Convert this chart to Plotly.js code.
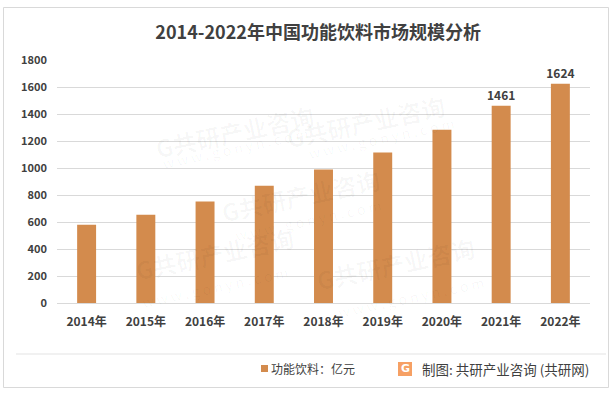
<!DOCTYPE html>
<html>
<head>
<meta charset="utf-8">
<script src="https://cdn.plot.ly/plotly-3.0.1.min.js"></script>
<style>
  html, body { margin: 0; padding: 0; background: #fff; }
  #chart { width: 615px; height: 393px; }
</style>
</head>
<body>
<div id="chart"></div>
<script>
// ---- data ----
const years = ['2014年', '2015年', '2016年', '2017年', '2018年', '2019年', '2020年', '2021年', '2022年'];
const marketSize = [580, 654, 751, 869, 988, 1114, 1284, 1461, 1624];
const labeledYears = ['2021年', '2022年'];
const seriesName = '功能饮料：亿元';
const sourceText = '制图: 共研产业咨询 (共研网)';
const titleText = '2014-2022年中国功能饮料市场规模分析';
const yTicks = [0, 200, 400, 600, 800, 1000, 1200, 1400, 1600, 1800];

// ---- layout helpers ----
const W = 615, H = 393;
const M = { l: 57, r: 25, t: 60, b: 90 };
const pw = W - M.l - M.r, ph = H - M.t - M.b;
const px = x => (x - M.l) / pw;
const py = y => (H - M.b - y) / ph;

const FONT = '"Noto Sans CJK SC", "Noto Sans", sans-serif';
const barColor = '#D38B4D';
const textColor = '#404040';

const trace = {
  type: 'bar',
  x: years,
  y: marketSize,
  marker: { color: barColor },
  text: marketSize.map((v, i) => labeledYears.includes(years[i]) ? String(v) : ''),
  textposition: 'outside',
  constraintext: 'none',
  textfont: { family: FONT, size: 12, color: textColor, weight: 'bold' },
  cliponaxis: false,
  hoverinfo: 'x+y',
  showlegend: false
};

// faint watermarks
const wm = [];
const wmSpots = [[150, 95], [450, 85], [300, 195], [130, 290], [480, 300]];
wmSpots.forEach(([x, y]) => {
  wm.push({ xref: 'paper', yref: 'paper', x: px(x), y: py(y), text: 'G共研产业咨询', showarrow: false,
    textangle: -12, font: { family: FONT, size: 24, color: 'rgba(0,0,0,0.03)', weight: 'bold' } });
  wm.push({ xref: 'paper', yref: 'paper', x: px(x + 8), y: py(y + 25), text: 'w w w . g o n y n . c o m', showarrow: false,
    textangle: -12, font: { family: FONT, size: 14, color: 'rgba(0,0,0,0.035)' } });
});

const layout = {
  width: W, height: H,
  margin: M,
  paper_bgcolor: '#ffffff',
  plot_bgcolor: '#ffffff',
  title: {
    text: titleText,
    x: 0.49, xref: 'paper', xanchor: 'center',
    y: 1 - 32.5 / H, yref: 'container', yanchor: 'middle',
    font: { family: FONT, size: 18, color: textColor, weight: 'bold' }
  },
  bargap: 0.68,
  xaxis: {
    type: 'category',
    tickfont: { family: FONT, size: 12, color: textColor, weight: 'bold' },
    showgrid: false, zeroline: false, showline: false, ticks: '',
    ticklabelstandoff: 10,
    fixedrange: true
  },
  yaxis: {
    range: [0, 1800],
    tickvals: yTicks,
    tickfont: { family: FONT, size: 11, color: textColor, weight: 'bold' },
    showgrid: true, gridcolor: '#d9d9d9', gridwidth: 1,
    zeroline: true, zerolinecolor: '#d9d9d9', zerolinewidth: 1,
    showline: false, ticks: '', ticklabelstandoff: 9,
    fixedrange: true
  },
  shapes: [
    // outer border
    { type: 'rect', xref: 'paper', yref: 'paper', x0: px(3.5), x1: px(608.5), y0: py(7.5), y1: py(387.5),
      line: { color: '#d9d9d9', width: 1 }, fillcolor: 'rgba(0,0,0,0)', layer: 'below' },
    // separator line
    { type: 'line', xref: 'paper', yref: 'paper', x0: px(16), x1: px(606), y0: py(354), y1: py(354),
      line: { color: '#e3e3e3', width: 1 } },
    // legend square
    { type: 'rect', xref: 'paper', yref: 'paper', x0: px(261), x1: px(268), y0: py(365), y1: py(372),
      line: { width: 0 }, fillcolor: barColor },
    // logo
    { type: 'rect', xref: 'paper', yref: 'paper', x0: px(398), x1: px(412), y0: py(362), y1: py(376),
      line: { width: 0 }, fillcolor: '#f6a064' }
  ],
  annotations: wm.concat([
    { xref: 'paper', yref: 'paper', x: px(269), y: py(369), xanchor: 'left', yanchor: 'middle',
      text: seriesName, showarrow: false, font: { family: FONT, size: 12, color: textColor } },
    { xref: 'paper', yref: 'paper', x: px(405), y: py(369), xanchor: 'center', yanchor: 'middle',
      text: '<b>G</b>', showarrow: false, font: { family: 'DejaVu Sans', size: 11, color: '#ffffff' } },
    { xref: 'paper', yref: 'paper', x: px(420), y: py(369), xanchor: 'left', yanchor: 'middle',
      text: sourceText, showarrow: false, font: { family: FONT, size: 13.5, color: textColor } }
  ])
};

Plotly.newPlot('chart', [trace], layout, { displayModeBar: false, staticPlot: true });
</script>
</body>
</html>
